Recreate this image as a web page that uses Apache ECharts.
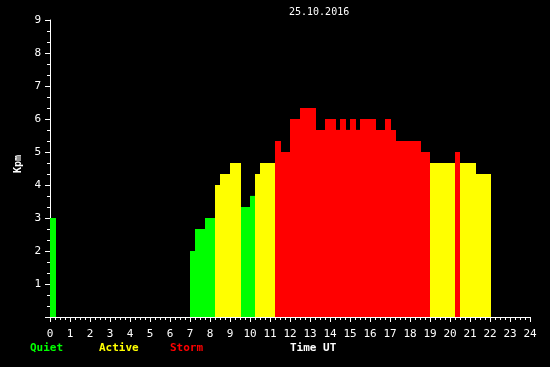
<!DOCTYPE html>
<html>
<head>
<meta charset="utf-8">
<script src="https://cdn.jsdelivr.net/npm/echarts@6/dist/echarts.min.js"></script>
<style>html,body{margin:0;padding:0;background:#000;}#c{width:550px;height:367px;}</style>
</head>
<body>
<div id="c"></div>
<script>
// Interval start (UT hours), interval end (UT hours), Kp value
var startHours = [0, 7, 7.25, 7.75, 8.25, 8.5, 9, 9.55, 10, 10.25, 10.5, 11.25, 11.55, 12, 12.5, 13.3, 13.75, 14.3, 14.5, 14.8, 15, 15.3, 15.5, 16.3, 16.75, 17.05, 17.3, 18.55, 19, 20.25, 20.5, 21.3];
var endHours   = [0.3, 7.25, 7.75, 8.25, 8.5, 9, 9.55, 10, 10.25, 10.5, 11.25, 11.55, 12, 12.5, 13.3, 13.75, 14.3, 14.5, 14.8, 15, 15.3, 15.5, 16.3, 16.75, 17.05, 17.3, 18.55, 19, 20.25, 20.5, 21.3, 22.05];
var kpValues   = [3, 2, 2.67, 3, 4, 4.33, 4.67, 3.33, 3.67, 4.33, 4.67, 5.33, 5, 6, 6.33, 5.67, 6, 5.67, 6, 5.67, 6, 5.67, 6, 5.67, 6, 5.67, 5.33, 5, 4.67, 5, 4.67, 4.33];
var xTicks = [0, 24];
var yTicks = [0, 9];
var titleText = '25.10.2016';

var data = startHours.map(function (s, i) { return [s, endHours[i], kpValues[i]]; });

function kpColor(v) {
  if (v >= 5) return '#ff0000';
  if (v >= 4) return '#ffff00';
  return '#00ff00';
}

var mono = '"DejaVu Sans Mono", "Liberation Mono", monospace';
var chart = echarts.init(document.getElementById('c'), null, {renderer: 'canvas'});
chart.setOption({
  backgroundColor: '#000000',
  animation: false,
  grid: {left: 50, right: 20, top: 20, bottom: 50, containLabel: false},
  xAxis: {
    type: 'value', min: xTicks[0], max: xTicks[1], interval: 1,
    axisLine: {show: true, lineStyle: {color: '#ffffff', width: 1}},
    axisTick: {show: true, length: 5, lineStyle: {color: '#ffffff'}},
    minorTick: {show: true, splitNumber: 4, length: 3, lineStyle: {color: '#ffffff'}},
    splitLine: {show: false},
    axisLabel: {color: '#ffffff', fontFamily: mono, fontSize: 11, margin: 12}
  },
  yAxis: {
    type: 'value', min: yTicks[0], max: yTicks[1], interval: 1,
    axisLine: {show: true, lineStyle: {color: '#ffffff', width: 1}},
    axisTick: {show: true, length: 5, lineStyle: {color: '#ffffff'}},
    minorTick: {show: true, splitNumber: 3, length: 3, lineStyle: {color: '#ffffff'}},
    splitLine: {show: false},
    axisLabel: {color: '#ffffff', fontFamily: mono, fontSize: 11, margin: 9,
      formatter: function (v) { return v === 0 ? '' : String(v); }}
  },
  series: [{
    type: 'custom',
    data: data,
    encode: {x: [0, 1], y: 2},
    renderItem: function (params, api) {
      var p0 = api.coord([api.value(0), api.value(2)]);
      var p1 = api.coord([api.value(1), 0]);
      return {
        type: 'rect',
        shape: {x: p0[0], y: p0[1], width: p1[0] - p0[0], height: p1[1] - p0[1]},
        style: {fill: kpColor(api.value(2))}
      };
    }
  }],
  graphic: [
    {type: 'text', left: 289, top: 7, style: {text: titleText, fill: '#ffffff', font: '10px ' + mono}},
    {type: 'text', x: 18, y: 164, rotation: Math.PI / 2, style: {text: 'Kpm', fill: '#ffffff', font: 'bold 10px ' + mono, align: 'center', verticalAlign: 'middle'}},
    {type: 'text', left: 30, top: 343, style: {text: 'Quiet', fill: '#00ff00', font: 'bold 11px ' + mono}},
    {type: 'text', left: 99, top: 343, style: {text: 'Active', fill: '#ffff00', font: 'bold 11px ' + mono}},
    {type: 'text', left: 170, top: 343, style: {text: 'Storm', fill: '#ff0000', font: 'bold 11px ' + mono}},
    {type: 'text', left: 290, top: 343, style: {text: 'Time UT', fill: '#ffffff', font: 'bold 11px ' + mono}}
  ]
});
</script>
</body>
</html>
